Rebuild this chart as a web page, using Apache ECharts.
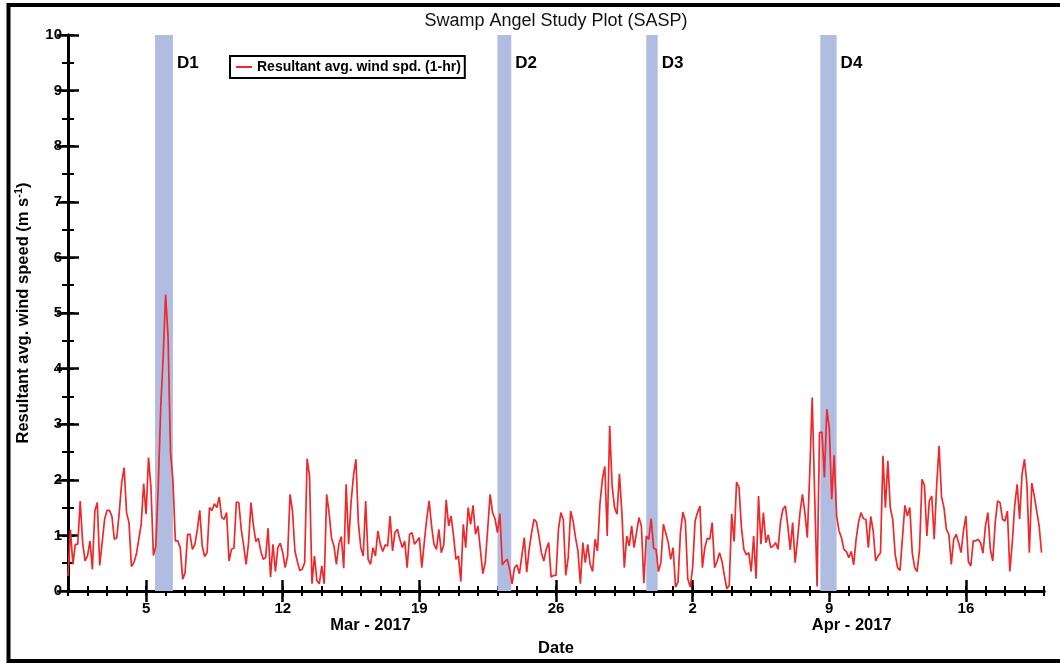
<!DOCTYPE html>
<html><head><meta charset="utf-8">
<script src="https://cdn.jsdelivr.net/npm/echarts@6/dist/echarts.min.js"></script>
<style>html,body{margin:0;padding:0;background:#fff}#chart{width:1060px;height:664px}</style>
</head><body><div id="chart"></div>
<script>
// ---- data ----
const chartTitle = 'Swamp Angel Study Plot (SASP)';
const seriesName = 'Resultant avg. wind spd. (1-hr)';
const periodStart = '2017-03-01T00:00:00Z';
const periodDays = 50;
const sampleStepHours = 3;
const windSpeed = [
0.27,1.1,0.48,0.84,0.84,1.62,0.87,0.54,0.63,0.9,0.39,1.44,1.59,0.46,0.87,1.29,1.45,1.45,1.34,0.93,
0.96,1.41,1.95,2.22,1.41,1.23,0.44,0.51,0.66,0.93,1.2,1.93,1.38,2.4,1.86,0.64,0.81,1.9,3.3,4.2,
5.33,4.58,2.49,2.0,0.9,0.9,0.78,0.21,0.33,1.02,1.02,0.75,0.84,1.1,1.45,0.81,0.62,0.69,1.5,1.45,
1.57,1.5,1.69,1.32,1.29,1.41,
0.54,0.75,0.77,1.6,1.59,1.11,0.81,0.48,0.87,1.59,1.17,0.89,0.95,0.72,0.57,0.6,1.13,0.25,0.84,0.35,
0.78,0.86,0.69,0.42,0.63,1.74,1.44,0.72,0.53,0.37,0.39,0.51,2.38,2.06,0.13,0.63,0.19,0.13,0.45,0.13,
1.74,1.41,0.95,0.81,0.48,0.84,0.98,0.41,1.92,0.84,1.59,2.07,2.37,1.23,0.78,0.63,1.62,0.57,0.48,0.78,
0.63,1.08,0.84,0.71,0.83,0.81,1.35,
0.72,1.05,1.11,0.93,0.78,0.9,0.42,1.02,1.05,0.84,0.9,0.96,0.42,0.87,1.29,1.62,1.17,0.84,0.75,
1.11,0.69,0.83,1.64,1.17,1.35,0.99,0.57,0.63,0.17,1.2,0.78,1.5,1.2,1.54,1.02,1.17,0.75,0.31,0.51,
1.11,1.74,1.41,1.3,1.05,1.39,0.47,0.53,0.57,0.39,0.13,0.42,0.47,0.31,0.63,0.96,0.34,0.75,1.05,1.29,
1.24,0.99,0.69,0.54,0.75,0.87,0.25,0.28,
0.28,1.11,1.41,1.28,0.28,0.6,1.44,1.26,0.96,0.72,0.13,0.87,0.51,0.84,0.48,0.35,0.93,0.72,1.56,2.01,
2.24,0.99,2.97,1.89,1.5,1.38,2.11,1.41,0.42,0.99,0.81,1.17,0.78,1.05,1.32,1.17,0.14,0.99,0.93,1.3,
0.77,0.75,0.35,0.51,1.2,1.04,0.87,0.57,0.78,0.07,0.16,1.05,1.42,1.26,0.22,0.07,0.42,1.26,1.41,1.53,
0.42,0.78,0.95,0.93,1.23,0.42,0.53,0.69,
0.54,0.28,0.04,0.1,1.39,0.89,1.96,1.86,1.14,0.75,0.65,0.69,0.35,0.99,0.22,1.71,0.84,1.41,0.87,1.01,
0.78,0.81,0.87,0.75,1.24,1.47,1.53,1.17,0.74,1.23,0.51,0.93,1.41,1.74,1.41,0.96,2.13,3.48,1.74,0.08,
2.85,2.86,2.04,3.27,2.93,1.65,2.44,1.35,1.08,0.96,0.75,0.71,0.6,0.71,0.47,0.93,1.24,1.41,1.3,1.29,
0.78,1.34,1.08,0.54,0.63,0.69,2.43,1.5,
2.34,1.5,1.29,0.66,0.42,0.37,0.96,1.54,1.35,1.5,0.69,0.42,0.35,0.75,2.01,1.9,0.99,1.62,1.71,0.93,
1.89,2.61,1.7,1.5,1.11,1.02,0.48,0.93,1.02,0.87,0.69,1.08,1.35,0.53,0.45,0.9,0.9,0.93,0.87,0.68,
1.17,1.41,0.75,0.54,1.23,1.62,1.59,1.29,1.26,1.44,0.35,0.87,1.54,1.92,1.29,2.1,2.37,1.92,0.69,1.94,
1.71,1.44,1.17,0.69
];
const majorTickDays = [4, 11, 18, 25, 32, 39, 46];
const majorTickLabels = ['5', '12', '19', '26', '2', '9', '16'];
const monthLabelDays = [15.5, 40.15];
const monthLabels = ['Mar - 2017', 'Apr - 2017'];
const eventNames = ['D1', 'D2', 'D3', 'D4'];
const eventStart = ['2017-03-05T11:00:00Z', '2017-03-23T00:00:00Z', '2017-03-30T15:00:00Z', '2017-04-08T13:00:00Z'];
const eventEnd   = ['2017-03-06T09:00:00Z', '2017-03-23T17:00:00Z', '2017-03-31T05:00:00Z', '2017-04-09T09:00:00Z'];
const yRange = [0, 10];
const yMajorStep = 1;
const yMinorStep = 0.5;

// ---- build ----
const FONT = '"Liberation Sans", Arial, Helvetica, sans-serif';
const t0 = Date.parse(periodStart);
const toDay = s => (Date.parse(s) - t0) / 864e5;
const lineData = windSpeed.map((v, i) => [i * sampleStepHours / 24, v]);
const bands = eventNames.map((n, i) => [
  { xAxis: toDay(eventStart[i]), name: n },
  { xAxis: toDay(eventEnd[i]) }
]);

const black = '#000';
const tickLabel = { color: black, fontFamily: FONT, fontWeight: 'bold', fontSize: 15 };
const nameLabel = { color: black, fontFamily: FONT, fontWeight: 'bold', fontSize: 16.5 };
function xAx(extra) {
  return Object.assign({
    type: 'value', min: 0, max: periodDays,
    splitLine: { show: false },
    axisLine: { show: false },
    axisTick: { show: false },
    axisLabel: { show: false }
  }, extra);
}
function yAx(extra) {
  return Object.assign({
    type: 'value', min: yRange[0], max: yRange[1],
    splitLine: { show: false },
    axisLine: { show: false },
    axisTick: { show: false },
    axisLabel: { show: false }
  }, extra);
}
const minorTick = { show: true, inside: true, length: 5, lineStyle: { color: black, width: 2 } };
const majorTickX = { show: true, inside: true, length: 11, customValues: majorTickDays, lineStyle: { color: black, width: 2.5 } };
const majorTickY = { show: true, inside: true, length: 11, lineStyle: { color: black, width: 2.5 } };
const axisLine = { show: true, lineStyle: { color: black, width: 3 } };

const chart = echarts.init(document.getElementById('chart'), null, { renderer: 'canvas' });
chart.setOption({
  animation: false,
  backgroundColor: '#fff',
  grid: { left: 68, right: 16, top: 35, bottom: 73, containLabel: false },
  graphic: [
    { type: 'text', x: 556, y: 12, style: { text: chartTitle, fill: '#111', textAlign: 'center', font: '18px ' + FONT } },
    { type: 'rect', shape: { x: 8.5, y: 5, width: 1060, height: 656 }, style: { fill: 'none', stroke: black, lineWidth: 4 }, silent: true }
  ],
  legend: {
    data: [seriesName], left: 230, top: 56,
    icon: 'rect', itemWidth: 16, itemHeight: 2, itemGap: 0,
    padding: [4, 4, 4, 6], borderColor: black, borderWidth: 2, borderRadius: 0,
    textStyle: { color: black, fontFamily: FONT, fontWeight: 'bold', fontSize: 14 }
  },
  xAxis: [
    xAx({ position: 'bottom', interval: 1, axisLine: axisLine, axisTick: minorTick,
      name: 'Date', nameLocation: 'middle', nameGap: 49, nameTextStyle: nameLabel }),
    xAx({ position: 'bottom', axisTick: majorTickX,
      axisLabel: { show: true, customValues: majorTickDays, margin: 10,
        formatter: v => majorTickLabels[majorTickDays.indexOf(v)] || '', ...tickLabel } }),
    xAx({ position: 'top', interval: 1, axisLine: axisLine, axisTick: minorTick }),
    xAx({ position: 'top', axisTick: majorTickX }),
    xAx({ position: 'bottom',
      axisLabel: { show: true, customValues: monthLabelDays, margin: 26,
        formatter: v => monthLabels[monthLabelDays.indexOf(v)] || '', ...nameLabel } })
  ],
  yAxis: [
    yAx({ position: 'left', interval: yMajorStep, axisLine: axisLine, axisTick: majorTickY,
      axisLabel: { show: true, margin: 6, ...tickLabel },
      name: '{t|Resultant avg. wind speed (m s}{s|-1}{t|)}',
      nameLocation: 'middle', nameGap: 35,
      nameTextStyle: { rich: {
        t: { fontFamily: FONT, fontWeight: 'bold', fontSize: 16.5, color: black, lineHeight: 20 },
        s: { fontFamily: FONT, fontWeight: 'bold', fontSize: 11, color: black, verticalAlign: 'top', lineHeight: 11 }
      } }
    }),
    yAx({ position: 'right', interval: yMajorStep, axisLine: axisLine, axisTick: majorTickY }),
    yAx({ position: 'left', interval: yMinorStep, axisTick: { show: true, inside: true, length: 6, lineStyle: { color: black, width: 2 } } }),
    yAx({ position: 'right', interval: yMinorStep, axisTick: { show: true, inside: true, length: 6, lineStyle: { color: black, width: 2 } } })
  ],
  series: [{
    name: seriesName, type: 'line', xAxisIndex: 0, yAxisIndex: 0,
    data: lineData, showSymbol: false, symbol: 'none',
    lineStyle: { color: '#f0282a', width: 1.7 }, itemStyle: { color: '#f0282a' },
    z: 5,
    markArea: {
      silent: true,
      itemStyle: { color: '#b1bde0' },
      label: { show: true, position: ['100%', 20], offset: [4, 0], color: black,
        fontFamily: FONT, fontWeight: 'bold', fontSize: 17 },
      data: bands
    }
  }]
});
</script></body></html>
